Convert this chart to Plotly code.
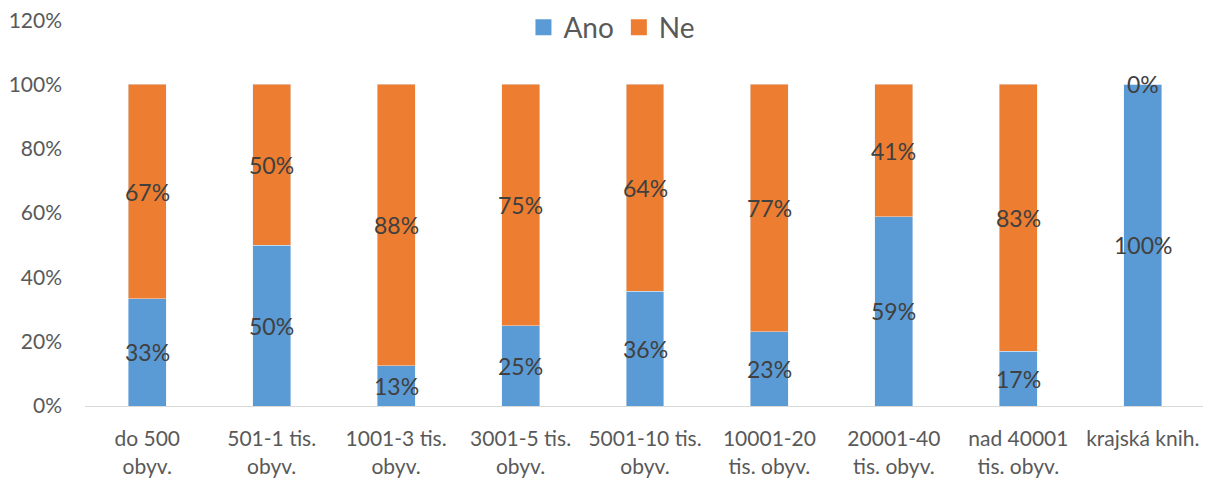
import plotly.graph_objects as go

categories = ["do 500<br>obyv.", "501-1 tis.<br>obyv.", "1001-3 tis.<br>obyv.", "3001-5 tis.<br>obyv.",
              "5001-10 tis.<br>obyv.", "10001-20<br>tis. obyv.", "20001-40<br>tis. obyv.",
              "nad 40001<br>tis. obyv.", "krajská knih."]
ano = [33.3, 50.0, 12.5, 25.0, 35.7, 23.1, 58.8, 17.0, 100.0]
ne = [66.7, 50.0, 87.5, 75.0, 64.3, 76.9, 41.2, 83.0, 0.0]
y_ticks = [0, 20, 40, 60, 80, 100, 120]

BLUE = "#5B9BD5"
ORANGE = "#ED7D31"
FONT = "Lato"


def pct(v):
    return f"{int(v + 0.5)}%"


fig = go.Figure()
fig.add_trace(go.Bar(name="Ano", x=categories, y=ano, marker_color=BLUE, showlegend=False))
fig.add_trace(go.Bar(name="Ne", x=categories, y=ne, marker_color=ORANGE, showlegend=False))
# legend-only entries with larger square swatches
for name, col in (("Ano", BLUE), ("Ne", ORANGE)):
    fig.add_trace(go.Scatter(name=name, x=[None], y=[None], mode="markers",
                             marker=dict(symbol="square", size=18, color=col)))

annotations = []
for c, a, n in zip(categories, ano, ne):
    annotations.append(dict(x=c, y=a / 2, text=pct(a), showarrow=False,
                            xref="x", yref="y", font=dict(size=23, color="#404040", family=FONT)))
    annotations.append(dict(x=c, y=a + n / 2, text=pct(n), showarrow=False,
                            xref="x", yref="y", font=dict(size=23, color="#404040", family=FONT)))

# page body has an 8px margin, so the figure is sized/offset to compensate
fig.update_layout(
    barmode="stack",
    bargap=0.695,
    width=1203, height=470,
    margin=dict(l=77, r=6, t=12, b=72, autoexpand=False),
    plot_bgcolor="white", paper_bgcolor="white",
    font=dict(family=FONT, color="#595959", size=21),
    legend=dict(orientation="h", x=0.4705, xanchor="center", y=1.045, yanchor="top",
                traceorder="normal", itemsizing="trace",
                font=dict(size=28, color="#595959"), itemwidth=30, bgcolor="rgba(0,0,0,0)"),
    annotations=annotations,
    showlegend=True,
)
fig.update_yaxes(range=[0, 120.05], tickvals=y_ticks, ticktext=[f"{v}%" for v in y_ticks],
                 showgrid=False, zeroline=False, showline=False, ticks="", automargin=False,
                 ticklabeloverflow="allow",
                 tickfont=dict(size=21, color="#595959"), ticklabelstandoff=22)
fig.update_xaxes(showline=True, linecolor="#D9D9D9", linewidth=1, showgrid=False, ticks="",
                 automargin=False,
                 tickfont=dict(size=21, color="#595959"), ticklabelstandoff=14)

fig.write_html("out.html")
